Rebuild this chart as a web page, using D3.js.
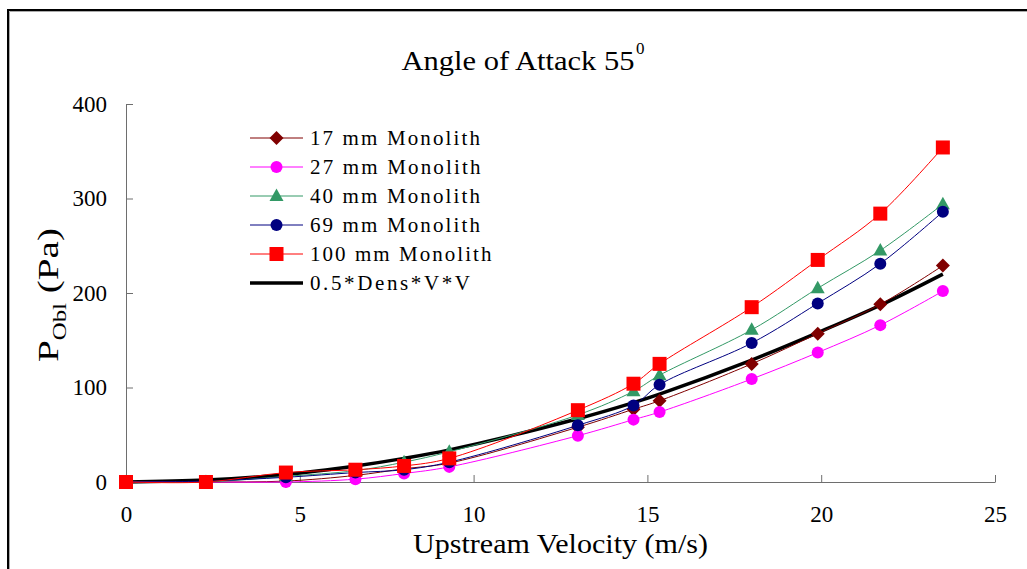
<!DOCTYPE html>
<html>
<head>
<meta charset="utf-8">
<script src="https://cdn.jsdelivr.net/npm/d3@7"></script>
<style>
  html, body { margin: 0; padding: 0; background: #fff; }
  svg, svg text { font-family: "Liberation Serif", "Times New Roman", serif !important; }
</style>
</head>
<body>
<svg id="chart" width="1027" height="569"></svg>
<script>
// ---- data ----
const velocity = [0, 2.3, 4.6, 6.6, 8.0, 9.3, 13.0, 14.6, 15.35, 18.0, 19.9, 21.7, 23.5];
const mono17  = [0, 0, 1, 7, 14, 20, 58, 77, 86, 125, 157, 188, 229];
const mono27  = [0, 0, 0, 3, 9, 16, 49, 66, 74, 109, 137, 166, 202];
const mono40  = [0, 0, 6, 12, 21, 32, 71, 96, 113, 161, 205, 245, 294];
const mono69  = [0, 1, 5, 10, 13, 21, 60, 81, 103, 147, 189, 231, 286];
const mono100 = [0, 0, 10, 13, 17, 25, 76, 104, 125, 185, 235, 284, 354];
const dynamicPressure = [0, 2, 8, 17, 25, 34, 67, 84, 93, 129, 158, 187, 220];
const seriesNames = ["17 mm Monolith", "27 mm Monolith", "40 mm Monolith", "69 mm Monolith", "100 mm Monolith", "0.5*Dens*V*V"];
const xTicks = [0, 5, 10, 15, 20, 25];
const yTicks = [0, 100, 200, 300, 400];

// ---- styles ----
const styles = [
  { values: mono17,  color: "#800000", marker: "diamond" },
  { values: mono27,  color: "#FF00FF", marker: "circle" },
  { values: mono40,  color: "#339966", marker: "triangle" },
  { values: mono69,  color: "#000080", marker: "circle" },
  { values: mono100, color: "#FF0000", marker: "square" },
  { values: dynamicPressure, color: "#000000", marker: null }
];

const FONT = '"Liberation Serif", "Times New Roman", serif';
const svg = d3.select("#chart");
const x = d3.scaleLinear().domain([0, 25]).range([126, 995]);
const y = d3.scaleLinear().domain([0, 400]).range([482, 104]);

// outer frame (top + left)
svg.append("path")
  .attr("d", "M8,569 L8,10 L1027,10")
  .attr("fill", "none").attr("stroke", "#000").attr("stroke-width", 2);
svg.append("path")
  .attr("d", "M9.5,569 L9.5,11.5 L1027,11.5")
  .attr("fill", "none").attr("stroke", "#aaa").attr("stroke-width", 1);

// title
const title = svg.append("text").attr("y", 70).attr("font-size", 27).attr("fill", "#000").style("font-family", FONT);
title.append("tspan").attr("x", 401.5).attr("textLength", 233).attr("lengthAdjust", "spacingAndGlyphs").text("Angle of Attack 55");
title.append("tspan").attr("x", 636).attr("y", 54).attr("font-size", 17).text("0");

// axes
const axisColor = "#6e6e6e";
const yAxis = svg.append("g").attr("transform", `translate(${x(0)},0)`)
  .call(d3.axisLeft(y).tickValues(yTicks).tickSizeInner(-7).tickSizeOuter(0).tickPadding(19));
const xAxis = svg.append("g").attr("transform", `translate(0,${y(0)})`)
  .call(d3.axisBottom(x).tickValues(xTicks).tickSizeInner(-7).tickSizeOuter(0).tickPadding(24));
[xAxis, yAxis].forEach(g => {
  g.attr("font-family", null).attr("font-size", 23).style("font-family", FONT);
  g.select(".domain").attr("stroke", axisColor);
  g.selectAll(".tick line").attr("stroke", axisColor);
  g.selectAll(".tick text").attr("fill", "#000").attr("font-size", 23).style("font-family", FONT);
});

// axis titles
svg.append("text").attr("x", 560.5).attr("y", 553).attr("text-anchor", "middle")
  .attr("font-size", 28).attr("textLength", 295).attr("lengthAdjust", "spacingAndGlyphs")
  .style("font-family", FONT)
  .text("Upstream Velocity (m/s)");
const yl = svg.append("text").attr("transform", "translate(58,295) rotate(-90)")
  .attr("text-anchor", "middle").attr("font-size", 30).style("font-family", FONT)
  .attr("textLength", 134).attr("lengthAdjust", "spacingAndGlyphs");
yl.append("tspan").text("P");
yl.append("tspan").attr("font-size", 19).attr("dy", 8).text("Obl");
yl.append("tspan").attr("dy", -8).text(" (Pa)");

// marker factory
function marker(sel, type, color) {
  if (type === "circle") {
    sel.append("circle").attr("r", 6).attr("fill", color);
  } else if (type === "square") {
    sel.append("rect").attr("x", -7).attr("y", -7).attr("width", 14).attr("height", 14).attr("fill", color);
  } else if (type === "diamond") {
    sel.append("path").attr("d", "M0,-7 L7,0 L0,7 L-7,0 Z").attr("fill", color);
  } else if (type === "triangle") {
    sel.append("path").attr("d", "M0,-7.5 L7,5 L-7,5 Z").attr("fill", color);
  }
}

const line = d3.line().x(d => x(d[0])).y(d => y(d[1])).curve(d3.curveCatmullRom.alpha(0.5));

// draw black reference curve first (beneath), then series in order
const drawOrder = [5, 0, 1, 2, 3, 4];
drawOrder.forEach(i => {
  const s = styles[i];
  const pts = velocity.map((v, j) => [v, s.values[j]]);
  svg.append("path").datum(pts).attr("d", line)
    .attr("fill", "none").attr("stroke", s.color)
    .attr("stroke-width", s.marker ? 1 : 3.5)
    .attr("stroke-linejoin", "round");
  if (s.marker) {
    const g = svg.append("g");
    pts.forEach(p => {
      const m = g.append("g").attr("transform", `translate(${x(p[0])},${y(p[1])})`);
      marker(m, s.marker, s.color);
    });
  }
});

// legend
const legendX0 = 250, legendX1 = 303, legendTextX = 310, legendY0 = 138, legendStep = 29;
const legendLengths = [170, 170.5, 170, 170, 181.5, 160];
styles.forEach((s, i) => {
  const yy = legendY0 + i * legendStep;
  svg.append("line").attr("x1", legendX0).attr("x2", legendX1).attr("y1", yy).attr("y2", yy)
    .attr("stroke", s.color).attr("stroke-width", s.marker ? 1 : 3.5);
  if (s.marker) {
    const m = svg.append("g").attr("transform", `translate(${(legendX0 + legendX1) / 2},${yy})`);
    marker(m, s.marker, s.color);
  }
  svg.append("text").attr("x", legendTextX).attr("y", yy + 7).attr("font-size", 21)
    .style("font-family", FONT)
    .attr("textLength", legendLengths[i]).attr("lengthAdjust", "spacing")
    .text(seriesNames[i]);
});
</script>
</body>
</html>
